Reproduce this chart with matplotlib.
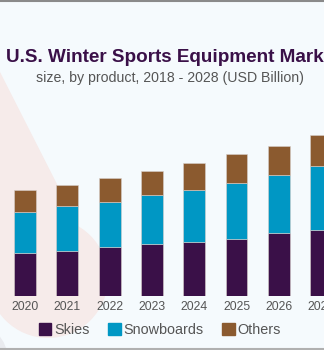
import matplotlib.pyplot as plt
import matplotlib.patches as mpatches
import numpy as np

# data (USD Billion)
years = [2020, 2021, 2022, 2023, 2024, 2025, 2026, 2027]
skies = [0.62, 0.65, 0.70, 0.74, 0.77, 0.82, 0.90, 0.95]
snowboards = [0.58, 0.63, 0.65, 0.70, 0.75, 0.80, 0.83, 0.91]
others = [0.32, 0.31, 0.34, 0.34, 0.38, 0.41, 0.42, 0.44]
series = ['Skies', 'Snowboards', 'Others']
colors = ['#3a1048', '#0097c4', '#8b5a2f']

title = 'U.S. Winter Sports Equipment Market'
subtitle = 'size, by product, 2018 - 2028 (USD Billion)'

W, H = 324, 350
fig = plt.figure(figsize=(W / 100, H / 100), dpi=100)
fig.patch.set_facecolor('#f5fafd')

# background decoration (pixel coords)
bg = fig.add_axes([0, 0, 1, 1])
bg.set_xlim(0, W)
bg.set_ylim(H, 0)
bg.axis('off')
pink = '#f6ebea'
bg.add_patch(mpatches.Circle((48, 278), 60, color=pink, lw=0))
bg.add_patch(mpatches.Polygon([(-3, 66), (88, 245), (-12, 290)], closed=True, color=pink, lw=0))
bg.add_patch(mpatches.Circle((-30, 360), 38, color='#e9ebef', lw=0))
bg.plot([0, W], [0.5, 0.5], color='#8a8a8a', lw=1.5)
bg.plot([0, W], [349, 349], color='#b0b0b0', lw=1.5)

fig.text(6 / W, 1 - 58 / H, title, fontsize=13.6, fontweight='bold', color='#3a1048',
         family='Liberation Sans', va='center', ha='left')
fig.text(36 / W, 1 - 78 / H, subtitle, fontsize=10.2, color='#555555',
         family='Liberation Sans', va='center', ha='left')

# bars
scale = 70.0  # px per unit
ax = fig.add_axes([0, 54 / H, 1, 296 / H])
ax.patch.set_alpha(0)
x = np.array(years, dtype=float)
step = 42.3
ax.set_xlim(2020 - 25 / step, 2020 + (W - 25) / step)
ax.set_ylim(0, 296 / scale)
bottom = np.zeros(len(years))
for vals, c, name in zip([skies, snowboards, others], colors, series):
    ax.bar(x, vals, width=22 / step, bottom=bottom, color=c, label=name,
           edgecolor='#d8d0cc', linewidth=0.4)
    bottom += np.array(vals)

ax.set_xticks(x)
ax.set_xticklabels([str(y) for y in years], fontsize=8.8, color='#555555', family='Liberation Sans')
ax.tick_params(axis='x', length=0, pad=3.5)
ax.set_yticks([])
for s in ax.spines.values():
    s.set_visible(False)

handles = [mpatches.Patch(color=c) for c in colors]
fig.legend(handles, series, loc='center', bbox_to_anchor=(160 / W, 1 - 330 / H), ncol=3,
           frameon=False, prop={'family': 'Liberation Sans', 'size': 10.4},
           labelcolor='#555555', handlelength=0.85, handleheight=0.85,
           handletextpad=0.2, columnspacing=1.3)

fig.savefig('out.png', dpi=100, facecolor=fig.get_facecolor())
